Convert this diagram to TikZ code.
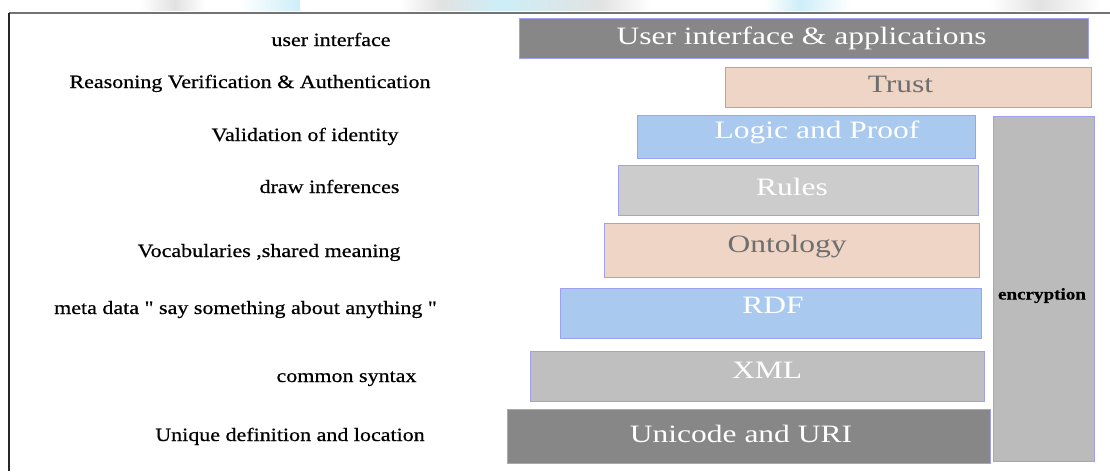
\documentclass[tikz,border=0pt]{standalone}
\usepackage{fontspec}
\setmainfont{Liberation Serif}
\newfontfamily\lblfont[FakeStretch=1.17, FakeBold=0.6]{Liberation Serif}
\newfontfamily\layerfont[FakeStretch=1.26]{Liberation Serif}

\definecolor{edge}{HTML}{A0A0F0}
\definecolor{darkgrey}{HTML}{878787}
\definecolor{peach}{HTML}{EFD5C6}
\definecolor{skyblue}{HTML}{A9C9EF}
\definecolor{lightgrey}{HTML}{CCCCCC}
\definecolor{midgrey}{HTML}{BFBFBF}
\definecolor{cryptgrey}{HTML}{BBBBBB}
\definecolor{peachtext}{HTML}{6E6E6E}
\definecolor{haze}{HTML}{CDEEF8}
\definecolor{hazegrey}{HTML}{E2E2E2}

\tikzset{
  layer/.style={draw=edge, line width=1pt, inner sep=0pt, anchor=north west},
  layertext/.style={font=\layerfont\fontsize{25}{25}\selectfont, anchor=base, inner sep=0pt, text=white},
  sidelabel/.style={font=\lblfont\fontsize{18.8}{18.8}\selectfont, anchor=base, inner sep=0pt, text=black},
}

\begin{document}
\begin{tikzpicture}[x=1pt, y=-1pt]
\useasboundingbox (0,0) rectangle (1110,471);
\fill[white] (0,0) rectangle (1110,471);

% faint remnants of a header strip above the frame
\shade[left color=white, right color=hazegrey] (140,0) rectangle (175,10);
\shade[left color=hazegrey, right color=white] (175,0) rectangle (205,10);
\shade[left color=white, right color=haze] (240,0) rectangle (300,10);
\shade[left color=white, right color=hazegrey] (400,0) rectangle (440,10);
\shade[left color=hazegrey, right color=haze] (440,0) rectangle (500,10);
\shade[left color=haze, right color=hazegrey] (500,0) rectangle (600,10);
\shade[left color=hazegrey, right color=white] (600,0) rectangle (650,10);
\shade[left color=white, right color=haze] (765,0) rectangle (800,10);
\shade[left color=haze, right color=white] (800,0) rectangle (850,10);
\shade[left color=white, right color=hazegrey] (990,0) rectangle (1040,10);
\shade[left color=hazegrey, right color=white] (1040,0) rectangle (1100,10);

% frame lines
\coordinate (frameTL) at (9,12.5);
\coordinate (frameTR) at (1110,12.5);
\coordinate (frameBL) at (9,471);
\draw[line width=2pt, color=black!55] (frameTL) -- (frameTR);
\draw[line width=1.4pt, color=black!85] (frameTL) -- (frameBL);

% layers of the stack
\node[layer, fill=darkgrey, minimum width=569, minimum height=40] (ui) at (519,18) {};
\node[layer, fill=peach, minimum width=366, minimum height=40] (trust) at (725,67) {};
\node[layer, fill=skyblue, minimum width=338, minimum height=43] (logic) at (637,115) {};
\node[layer, fill=lightgrey, minimum width=360, minimum height=50] (rules) at (618,165) {};
\node[layer, fill=peach, minimum width=375, minimum height=54] (onto) at (604,223) {};
\node[layer, fill=skyblue, minimum width=421, minimum height=50] (rdf) at (560,288) {};
\node[layer, fill=midgrey, minimum width=454, minimum height=50] (xml) at (530,351) {};
\node[layer, fill=darkgrey, minimum width=483, minimum height=54] (uni) at (507,409) {};
\node[layer, fill=cryptgrey, minimum width=101, minimum height=345] (crypt) at (993,116) {};

% layer names
\node[layertext] (ui-t) at (801.5,44) {User interface \& applications};
\node[layertext, text=peachtext] (trust-t) at (900.5,92) {Trust};
\node[layertext] (logic-t) at (817,138) {Logic and Proof};
\node[layertext] (rules-t) at (792,195) {Rules};
\node[layertext, text=peachtext] (onto-t) at (787,252) {Ontology};
\node[layertext] (rdf-t) at (773,313) {RDF};
\node[layertext] (xml-t) at (767,378) {XML};
\node[layertext] (uni-t) at (741,442) {Unicode and URI};
\node[font=\lblfont\bfseries\fontsize{16.3}{16.3}\selectfont, anchor=base, inner sep=0pt] (crypt-t) at (1042,299.5) {encryption};

% descriptions on the left
\node[sidelabel] (d-ui) at (331,46) {user interface};
\node[sidelabel] (d-trust) at (250,88) {Reasoning Verification \& Authentication};
\node[sidelabel] (d-logic) at (305,141) {Validation of identity};
\node[sidelabel] (d-rules) at (329.5,193) {draw inferences};
\node[sidelabel] (d-onto) at (269,257) {Vocabularies ,shared meaning};
\node[sidelabel] (d-rdf) at (245.5,314) {meta data " say something about anything "};
\node[sidelabel] (d-xml) at (346.5,382) {common syntax};
\node[sidelabel] (d-uni) at (290,441) {Unique definition and location};
\end{tikzpicture}
\end{document}
